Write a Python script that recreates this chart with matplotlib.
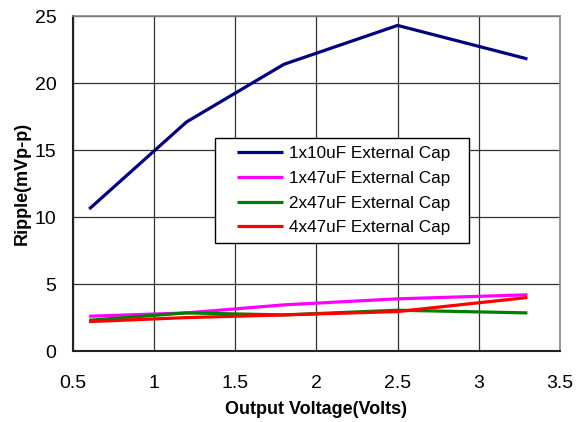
import matplotlib.pyplot as plt
from matplotlib.lines import Line2D
from matplotlib.legend_handler import HandlerLine2D

plt.rcParams['font.family'] = ['Liberation Sans', 'DejaVu Sans']

vout = [0.6, 1.2, 1.8, 2.5, 3.3]
cap_1x10 = [10.6, 17.1, 21.4, 24.3, 21.8]
cap_1x47 = [2.6, 2.85, 3.45, 3.9, 4.2]
cap_2x47 = [2.3, 2.85, 2.7, 3.05, 2.85]
cap_4x47 = [2.2, 2.5, 2.7, 2.95, 4.0]

series = [
    ('1x10uF External Cap', cap_1x10, '#000080'),
    ('1x47uF External Cap', cap_1x47, '#ff00ff'),
    ('2x47uF External Cap', cap_2x47, '#008000'),
    ('4x47uF External Cap', cap_4x47, '#ff0000'),
]

fig = plt.figure(figsize=(5.79, 4.22), dpi=100)
ax = fig.add_axes([0.126, 0.168, 0.841, 0.794])

for label, vals, color in series:
    ax.plot(vout, vals, color=color, lw=2.3, label=label, solid_capstyle='butt')

ax.set_xlim(0.5, 3.5)
ax.set_ylim(0, 25)
ax.set_xticks([0.5, 1, 1.5, 2, 2.5, 3, 3.5])
ax.set_xticklabels(['0.5', '1', '1.5', '2', '2.5', '3', '3.5'])
ax.set_yticks([0, 5, 10, 15, 20, 25])
ax.tick_params(length=0, labelsize=14)
ax.tick_params(axis='x', pad=17.5)
ax.tick_params(axis='y', pad=12)
ax.grid(True, color='#333333', lw=0.9)
ax.set_axisbelow(True)

for side in ['left', 'bottom']:
    ax.spines[side].set_color('#222222')
    ax.spines[side].set_linewidth(1.5)
for side in ['top', 'right']:
    ax.spines[side].set_color('#888888')
    ax.spines[side].set_linewidth(1.2)

ax.set_xlabel('Output Voltage(Volts)', fontsize=13, fontweight='bold', labelpad=6)
ax.set_ylabel('Ripple(mVp-p)', fontsize=13, fontweight='bold', labelpad=3)

leg = ax.legend(loc='upper left', bbox_to_anchor=(0.292, 0.328, 0.522, 0.308),
                mode='expand', fontsize=12.3, frameon=True, fancybox=False,
                edgecolor='black', framealpha=1, handlelength=3.55,
                handletextpad=0.3, borderpad=0.45, labelspacing=0.58,
                borderaxespad=0,
                handler_map={Line2D: HandlerLine2D(xpad=0.85)})
leg.get_frame().set_linewidth(1.0)

fig.savefig('out.png', dpi=100)
